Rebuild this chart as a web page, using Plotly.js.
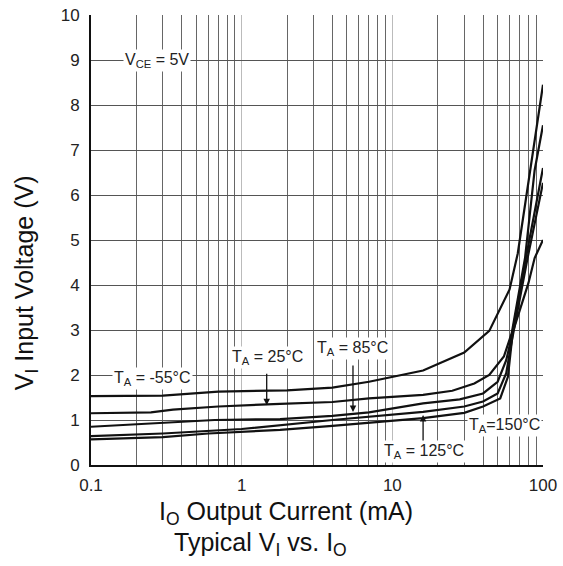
<!DOCTYPE html>
<html>
<head>
<meta charset="utf-8">
<script src="https://cdn.plot.ly/plotly-3.0.1.min.js"></script>
<style>html,body{margin:0;padding:0;background:#fff;}#chart{width:563px;height:566px;}</style>
</head>
<body>
<div id="chart"></div>
<script>
// Output current (mA) and input voltage (V) for each ambient temperature
const seriesNames = ['TA = -55°C', 'TA = 25°C', 'TA = 85°C', 'TA = 125°C', 'TA = 150°C'];

const currentM55 = [0.1, 0.3, 0.7, 2, 4, 7, 16, 30, 44, 60, 68, 82, 100];
const voltageM55 = [1.53, 1.54, 1.63, 1.66, 1.72, 1.85, 2.1, 2.5, 2.98, 3.9, 4.7, 6.55, 8.45];

const current25 = [0.1, 0.25, 0.35, 0.7, 1.8, 4, 7, 16, 25, 35, 44, 55, 62, 76, 88, 100];
const voltage25 = [1.15, 1.17, 1.23, 1.3, 1.36, 1.4, 1.48, 1.56, 1.65, 1.81, 2.0, 2.41, 2.93, 4.6, 6.55, 7.55];

const current85 = [0.1, 0.3, 0.66, 1.8, 4, 7, 16, 28, 40, 50, 57, 62, 77, 100];
const voltage85 = [0.85, 0.93, 1.0, 1.02, 1.09, 1.17, 1.37, 1.46, 1.59, 1.85, 2.33, 2.85, 4.6, 6.6];

const current125 = [0.1, 0.3, 1, 1.8, 4, 16, 30, 40, 50, 57, 62, 79, 100];
const voltage125 = [0.64, 0.7, 0.8, 0.89, 1.0, 1.18, 1.3, 1.41, 1.59, 2.04, 2.75, 4.6, 6.27];

const current150 = [0.1, 0.3, 0.6, 1.8, 4, 16, 30, 40, 52, 58.5, 63, 70, 80, 88, 100];
const voltage150 = [0.57, 0.62, 0.7, 0.78, 0.87, 1.04, 1.16, 1.3, 1.48, 1.96, 2.95, 3.44, 4.04, 4.6, 5.0];

const xTickVals = [0.1, 1, 10, 100];
const xTickText = ['0.1', '1', '10', '100'];
const xMinorVals = [0.2,0.3,0.4,0.5,0.6,0.7,0.8,0.9,2,3,4,5,6,7,8,9,20,30,40,50,60,70,80,90];
const yTickVals = [0,1,2,3,4,5,6,7,8,9,10];

const currents = [currentM55, current25, current85, current125, current150];
const voltages = [voltageM55, voltage25, voltage85, voltage125, voltage150];

const traces = currents.map((c, i) => ({
  x: c, y: voltages[i], name: seriesNames[i], type: 'scatter', mode: 'lines',
  line: {color: '#111', width: 2.2}, hoverinfo: 'skip'
}));

const FONT = 'Liberation Sans, Arial, sans-serif';
const lg = Math.log10;
const labelFont = {family: FONT, size: 16, color: '#222'};

function label(x, y, text) {
  return {x: lg(x), y: y, xref: 'x', yref: 'y', text: text, showarrow: false,
          font: labelFont, bgcolor: '#fff', xanchor: 'center', yanchor: 'middle', borderpad: 1};
}
function arrow(x, y, ay) {
  return {x: lg(x), y: y, xref: 'x', yref: 'y', text: '', showarrow: true, ax: 0, ay: ay,
          arrowhead: 2, arrowsize: 1, arrowwidth: 1.3, arrowcolor: '#111', standoff: 0};
}
function title(x, y, text, angle) {
  return {x: x, y: y, xref: 'paper', yref: 'paper', text: text, showarrow: false,
          xanchor: 'center', yanchor: 'middle', textangle: angle || 0,
          font: {family: FONT, size: 25, color: '#111'}};
}

const annotations = [
  label(0.273, 9.0, 'V<sub>CE</sub> = 5V'),
  label(0.256, 1.93, 'T<sub>A</sub> = -55°C'),
  label(1.48, 2.38, 'T<sub>A</sub> = 25°C'),
  label(5.43, 2.58, 'T<sub>A</sub> = 85°C'),
  label(16.2, 0.30, 'T<sub>A</sub> = 125°C'),
  label(55.1, 0.87, 'T<sub>A</sub>=150°C'),
  arrow(1.466, 1.33, -33),
  arrow(5.48, 1.18, -48),
  arrow(16.0, 1.11, 27),
  title(0.431, -0.107, 'I<sub>O</sub> Output Current (mA)'),
  title(0.376, -0.176, 'Typical V<sub>I</sub> vs. I<sub>O</sub>'),
  title(-0.144, 0.406, 'V<sub>I</sub> Input Voltage (V)', -90)
];

const layout = {
  width: 563, height: 566,
  margin: {l: 91, r: 20, t: 15, b: 101},
  paper_bgcolor: '#fff', plot_bgcolor: '#fff',
  showlegend: false,
  font: {family: FONT, color: '#222'},
  xaxis: {
    type: 'log', range: [-1, 2],
    tickmode: 'array', tickvals: xTickVals, ticktext: xTickText,
    ticks: '', showgrid: true, gridcolor: '#bbb', gridwidth: 1,
    minor: {tickmode: 'array', tickvals: xMinorVals, showgrid: true, gridcolor: '#666', gridwidth: 1, ticks: ''},
    showline: true, linecolor: '#111', linewidth: 2,
    zeroline: false, tickfont: {family: FONT, size: 17, color: '#222'},
    ticklabelstandoff: 4
  },
  yaxis: {
    range: [0, 10], tickmode: 'array', tickvals: yTickVals,
    ticks: '', showgrid: true, gridcolor: '#555', gridwidth: 1,
    showline: true, linecolor: '#111', linewidth: 2,
    zeroline: false, tickfont: {family: FONT, size: 17, color: '#222'},
    ticklabelstandoff: 6
  },
  annotations: annotations
};

Plotly.newPlot('chart', traces, layout, {displayModeBar: false, staticPlot: true});
</script>
</body>
</html>
